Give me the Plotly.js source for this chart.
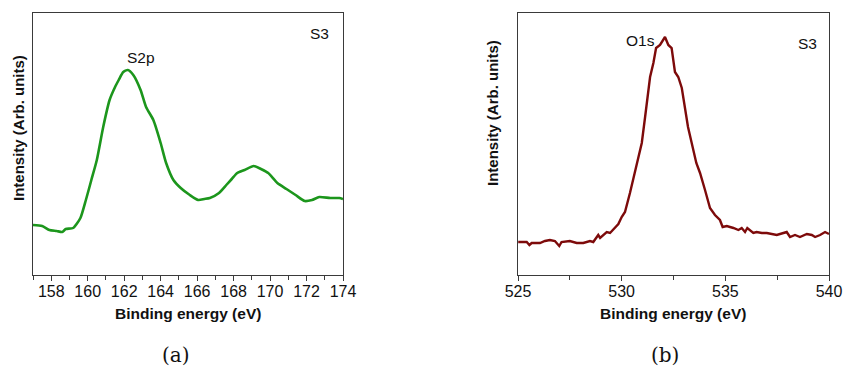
<!DOCTYPE html>
<html><head><meta charset="utf-8">
<script src="https://cdn.plot.ly/plotly-3.0.1.min.js"></script>
<style>html,body{margin:0;padding:0;background:#fff}#chart{width:843px;height:372px}</style>
</head><body><div id="chart"></div>
<script>
// (a) S2p spectrum
const s2pEnergy = [157.0,157.5,157.9,158.3,158.6,158.8,159.2,159.6,159.9,160.2,160.5,160.85,161.2,161.5,161.7,161.95,162.2,162.5,162.9,163.2,163.6,164.0,164.3,164.7,165.1,165.6,166.06,166.4,166.7,167.2,167.6,167.9,168.2,168.6,169.1,169.5,169.9,170.4,170.9,171.4,171.9,172.3,172.7,173.3,173.8,174.0];
const s2pIntensity = [50,49,45,44,43,46,47,57,75,95,115,148,175,188,195,203,205,200,185,168,155,132,112,95,87,80,75,76,77,82,90,96,102,105,109,106,102,92,86,80,74,75,78,77,77,76];
// (b) O1s spectrum
const o1sEnergy = [525.01,525.42,525.55,525.66,526.06,526.3,526.54,526.78,526.99,527.1,527.5,527.83,528.15,528.47,528.63,528.87,528.96,529.28,529.44,529.68,529.84,530.0,530.16,530.4,530.64,530.8,530.97,531.13,531.37,531.53,531.66,531.85,532.09,532.25,532.41,532.57,532.73,532.9,533.2,533.6,533.78,534.02,534.26,534.5,534.74,534.87,535.07,535.39,535.63,535.79,535.95,536.06,536.35,536.51,536.76,537.0,537.48,537.8,537.96,538.12,538.36,538.6,538.93,539.17,539.33,539.57,539.81,540.0];
const o1sIntensity = [33,33,30,32,32,34,35,34,29,33,34,32,32,34,33,40,37,43,42,47,51,58,63,82,102,118,132,158,198,212,227,230,238,230,227,203,198,187,148,112,102,85,67,60,55,48,49,47,45,47,43,47,42,43,42,42,40,42,43,38,40,38,41,40,38,40,43,41];

const xTicksA = [158,160,162,164,166,168,170,172,174];
const xTicksB = [525,530,535,540];

const W = 843, H = 372;
const px = (a,b)=>[a/W,b/W];
const py = (top,bot)=>[(H-bot)/H,(H-top)/H];
const font = 'Liberation Sans, Arial, sans-serif';
const txt = (x,y,text,size,extra)=>Object.assign({xref:'paper',yref:'paper',x:x/W,y:1-y/H,text:text,showarrow:false,xanchor:'center',yanchor:'middle',font:{family:font,size:size,color:'#111'}},extra||{});

const axisCommon = {
  showgrid:false, zeroline:false, showline:true, linecolor:'#3a3a3a', linewidth:1, mirror:true,
  ticks:'outside', ticklen:5, tickwidth:1, tickcolor:'#3a3a3a',
  tickfont:{family:font,size:16,color:'#111'}
};

const traces = [
  {x:s2pEnergy, y:s2pIntensity, type:'scatter', mode:'lines', line:{color:'#1c961c', width:2.6, shape:'spline', smoothing:0.6}, xaxis:'x', yaxis:'y', hoverinfo:'skip'},
  {x:o1sEnergy, y:o1sIntensity, type:'scatter', mode:'lines', line:{color:'#7d0a0a', width:2.4}, xaxis:'x2', yaxis:'y2', hoverinfo:'skip'}
];

const layout = {
  width:W, height:H, margin:{l:0,r:0,t:0,b:0}, showlegend:false,
  paper_bgcolor:'#fff', plot_bgcolor:'#fff',
  xaxis:Object.assign({}, axisCommon, {domain:px(33,343), range:[157,174], tickvals:xTicksA, ticktext:xTicksA.map(String), ticklabelstandoff:-3,
    minor:{dtick:1, tick0:157, ticks:'outside', ticklen:4, tickcolor:'#3a3a3a', showgrid:false}}),
  yaxis:Object.assign({}, axisCommon, {domain:py(13,275), range:[0,262], ticks:'', showticklabels:false}),
  xaxis2:Object.assign({}, axisCommon, {domain:px(518,829), range:[525,540], tickvals:xTicksB, ticktext:xTicksB.map(String), anchor:'y2', ticklabelstandoff:-3,
    minor:{dtick:2.5, tick0:525, ticks:'outside', ticklen:4, tickcolor:'#3a3a3a', showgrid:false}}),
  yaxis2:Object.assign({}, axisCommon, {domain:py(13,275), range:[0,262], ticks:'', showticklabels:false, anchor:'x2'}),
  annotations:[
    txt(188,313,'<b>Binding energy (eV)</b>',15.5),
    txt(673,313,'<b>Binding energy (eV)</b>',15.5),
    txt(18,128,'<b>Intensity (Arb. units)</b>',15,{textangle:-90}),
    txt(493,113,'<b>Intensity (Arb. units)</b>',15,{textangle:-90}),
    txt(141,58,'S2p',15.5),
    txt(319,33,'S3',15.5),
    txt(640,40,'O1s',15.5),
    txt(807,43,'S3',15.5),
    txt(176,355,'(a)',20,{font:{family:'DejaVu Serif, Liberation Serif, serif',size:20,color:'#111'}}),
    txt(665,355,'(b)',20,{font:{family:'DejaVu Serif, Liberation Serif, serif',size:20,color:'#111'}})
  ]
};
Plotly.newPlot('chart', traces, layout, {staticPlot:true, displayModeBar:false});
</script></body></html>
